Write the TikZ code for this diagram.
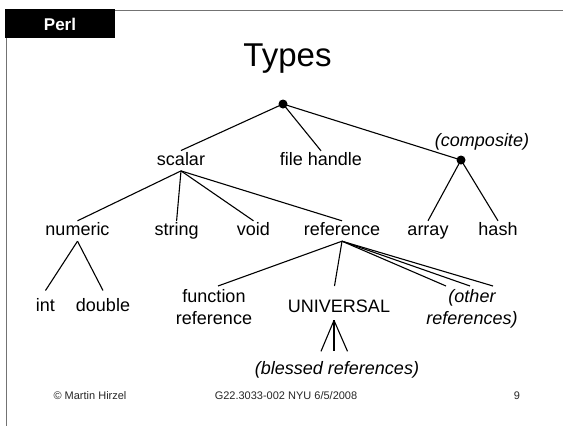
\documentclass[tikz,border=0pt]{standalone}
\usepackage{fontspec}
\setmainfont{Liberation Sans}
\begin{document}
\begin{tikzpicture}[x=1pt,y=-1pt,
  lbl/.style={font=\fontsize{18}{22}\selectfont, inner sep=2pt, text height=12.5pt, text depth=3.5pt},
  ml/.style={font=\fontsize{18}{22}\selectfont, inner sep=2pt, align=center},
  ital/.style={font=\fontsize{18}{22}\selectfont\itshape},
  edge/.style={line width=1.1pt, black},
  dot/.style={circle, fill=black, inner sep=0pt, minimum size=9pt},
  frame/.style={line width=1.4pt, draw=black!55},
  foot/.style={font=\fontsize{11}{13}\selectfont, inner sep=0pt, text=black!85}]
\useasboundingbox (0,0) rectangle (563,426);
% frame
\draw[frame] (100,10.7) -- (563,10.7);
\draw[frame] (6.7,30) -- (6.7,426);
\node[fill=black, minimum width=110pt, minimum height=29pt, inner sep=0pt, anchor=north west] (hdr) at (5,9) {};
\node[text=white, font=\bfseries\fontsize{17}{20}\selectfont, inner sep=0pt] (perl) at (60,24.5) {Perl};
% title
\node[font=\fontsize{33}{38}\selectfont] (title) at (287.5,59) {Types};
% dots
\node[dot] (root) at (283,104) {};
\node[dot] (comp) at (461,160) {};
\node[ital, inner sep=0pt] (complbl) at (482,141.5) {(composite)};
% row 1
\node[lbl] (scalar) at (181,160.7) {scalar};
\node[lbl] (fh) at (321,161) {file handle};
% row 2
\node[lbl] (numeric) at (77.5,231) {numeric};
\node[lbl] (string) at (176.6,231) {string};
\node[lbl] (void) at (253.5,231) {void};
\node[lbl] (reference) at (342,231) {reference};
\node[lbl] (array) at (428,231) {array};
\node[lbl] (hash) at (498,231) {hash};
% row 3
\node[lbl] (int) at (45.5,307.2) {int};
\node[lbl] (double) at (103,307.2) {double};
\node[ml, anchor=north] (funcref) at (214,287.7) {function\\reference};
\node[lbl] (universal) at (339,308.2) {UNIVERSAL};
\node[ml, ital, anchor=north] (other) at (472,287.7) {(other\\references)};
% row 4
\node[lbl, ital] (blessed) at (337,369.5) {(blessed references)};
% footer
\node[foot] (copy) at (90,396) {\textcopyright{} Martin Hirzel};
\node[foot] (course) at (286,396) {G22.3033-002 NYU 6/5/2008};
\node[foot] (page) at (517,396) {9};
% edges
\draw[edge] (root.center) -- (scalar.north);
\draw[edge] (root.center) -- (fh.north);
\draw[edge] (root.center) -- (comp.center);
\draw[edge] (comp.center) -- (array.north);
\draw[edge] (comp.center) -- (hash.north);
\draw[edge] (scalar.south) -- (numeric.north);
\draw[edge] (scalar.south) -- (string.north);
\draw[edge] (scalar.south) -- (void.north);
\draw[edge] (scalar.south) -- (reference.north);
\draw[edge] (numeric.south) -- ([yshift=6.5pt]int.north);
\draw[edge] (numeric.south) -- ([yshift=6.5pt]double.north);
\draw[edge] (reference.south) -- ([xshift=4pt,yshift=1.7pt]funcref.north);
\draw[edge] (reference.south) -- ([xshift=-4.5pt,yshift=12pt]universal.north);
\draw[edge] (reference.south) -- ([xshift=-26pt,yshift=1.7pt]other.north);
\draw[edge] (reference.south) -- ([xshift=-2pt,yshift=1.7pt]other.north);
\draw[edge] (reference.south) -- ([xshift=21pt,yshift=1.7pt]other.north);
\draw[edge] ([xshift=-5pt,yshift=-2pt]universal.south) -- ([xshift=-16pt,yshift=8pt]blessed.north);
\draw[edge] ([xshift=-5pt,yshift=-2pt]universal.south) -- ([xshift=-3pt,yshift=8pt]blessed.north);
\draw[edge] ([xshift=-5pt,yshift=-2pt]universal.south) -- ([xshift=10.5pt,yshift=8pt]blessed.north);
\end{tikzpicture}
\end{document}
